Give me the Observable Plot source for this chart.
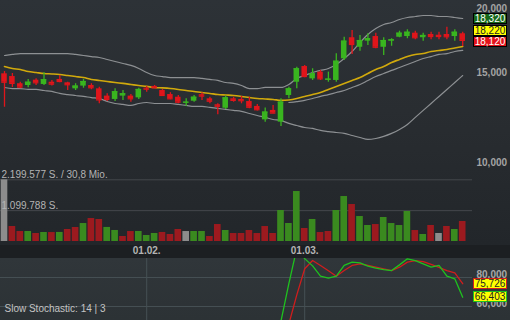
<!DOCTYPE html>
<html><head><meta charset="utf-8">
<script src="https://cdn.jsdelivr.net/npm/d3@7"></script>
<script src="https://cdn.jsdelivr.net/npm/@observablehq/plot@0.6"></script>
<style>
body{margin:0;background:#23272b;}
#chart{position:relative;width:510px;height:320px;overflow:hidden;font-family:"Liberation Sans",Arial,sans-serif;
background:linear-gradient(#2d3237 0px,#292d31 110px,#22262a 245px);}
#chart svg{position:absolute;left:0;}
.strip{position:absolute;left:0;top:245px;width:510px;height:13px;background:#1c1f22}
.stoch{position:absolute;left:0;top:258px;width:510px;height:62px;background:linear-gradient(#30363a,#2c3235)}
.box{position:absolute;left:473px;width:32px;height:9px;font-size:10px;line-height:9px;text-align:center;border:1px solid #000;box-sizing:content-box}
</style></head>
<body>
<div id="chart"><div class="strip"></div><div class="stoch"></div></div>
<script>
// ---- data (prices in EUR, one entry per trading day) ----
const open  = [15.59,15.40,14.91,14.79,15.15,14.86,15.01,15.20,14.97,14.57,14.75,14.79,14.57,14.10,13.89,14.10,14.10,13.99,14.61,14.73,14.46,14.20,14.03,13.66,13.78,14.19,13.93,13.56,13.35,13.93,13.89,13.76,13.46,12.67,13.22,12.54,14.14,15.01,16.11,15.24,15.71,15.15,15.13,16.68,18.34,17.57,18.06,18.44,17.57,18.06,18.38,18.44,18.72,18.34,18.61,18.55,18.61,18.44,18.67];
const high  = [15.75,15.61,15.01,15.20,15.24,15.66,15.13,15.47,15.01,14.91,15.20,14.91,14.68,14.25,14.57,14.46,14.20,14.61,14.73,14.79,14.53,14.32,14.14,13.93,14.14,14.32,14.03,13.62,14.10,14.03,14.08,14.03,13.58,13.37,13.52,13.93,14.68,16.06,16.19,15.95,15.83,15.71,17.06,18.38,18.95,18.53,18.67,18.72,18.34,18.26,18.89,19.01,18.89,18.72,18.80,18.80,19.23,19.01,18.80];
const low   = [13.41,14.66,14.57,14.64,14.79,14.79,14.75,14.97,14.46,14.46,14.61,14.51,13.62,13.76,13.76,13.83,13.72,13.89,14.35,14.57,14.08,13.87,13.62,13.46,13.72,13.83,13.62,12.96,13.28,13.72,13.62,13.32,13.18,12.54,13.02,12.30,13.93,14.57,15.31,15.13,15.13,15.01,15.01,16.55,17.01,17.26,17.71,17.45,16.93,17.65,18.34,18.26,18.17,18.06,18.17,18.17,18.17,18.06,17.63];
const close = [15.01,14.93,14.68,15.01,14.97,15.18,14.88,15.06,14.84,14.75,15.06,14.64,13.86,13.89,14.38,14.25,13.93,14.53,14.55,14.64,14.14,13.93,13.72,13.72,14.03,14.10,13.78,13.47,13.99,13.83,13.81,13.41,13.26,13.12,13.06,13.72,14.57,15.95,15.40,15.59,15.24,15.22,16.50,18.06,17.79,18.11,18.26,17.57,18.11,18.17,18.72,18.80,18.34,18.53,18.44,18.44,18.42,18.80,18.12];
const volume = [2199577,534800,356200,357100,285400,321300,318900,322600,428300,499700,641200,819500,784600,501300,392800,178400,355600,357900,213800,285900,321700,249600,427800,355300,356800,357400,177900,605800,392100,284600,286200,391700,284900,534300,285300,1104600,641800,1781900,463400,785200,319800,356600,1105300,1603800,1318700,890600,570400,605300,856200,640700,569800,1069500,391600,249800,570900,285100,534700,427600,713400];
const upperBand = [16.93,17.01,17.08,17.08,17.08,17.08,17.08,17.08,17.08,17.01,16.93,16.85,16.78,16.63,16.48,16.33,16.19,15.97,15.68,15.47,15.40,15.33,15.33,15.33,15.33,15.27,15.20,15.13,14.99,14.93,14.79,14.59,14.59,14.66,14.66,14.66,14.86,15.27,15.47,15.68,15.83,15.97,16.26,16.70,17.24,17.95,18.61,19.12,19.47,19.64,19.91,20.09,20.18,20.27,20.27,20.18,20.18,20.09,20.00];
const lowerBand = [14.66,14.59,14.59,14.53,14.53,14.46,14.40,14.27,14.20,14.14,14.08,14.01,13.95,13.76,13.64,13.58,13.52,13.64,13.70,13.64,13.64,13.64,13.58,13.52,13.46,13.46,13.40,13.34,13.28,13.22,13.16,13.04,12.92,12.81,12.69,12.63,12.47,12.35,12.24,12.19,12.08,12.02,11.97,11.92,11.81,11.70,11.60,11.65,11.76,11.92,12.13,12.41,12.81,13.22,13.64,14.08,14.53,14.99,15.47];
const avgYellow = [16.11,15.97,15.90,15.75,15.68,15.61,15.58,15.54,15.47,15.40,15.33,15.20,15.13,15.06,14.99,14.93,14.86,14.79,14.73,14.66,14.63,14.59,14.53,14.46,14.40,14.33,14.27,14.20,14.17,14.14,14.08,14.01,13.95,13.92,13.89,13.83,13.86,13.95,14.08,14.20,14.33,14.53,14.73,14.93,15.13,15.33,15.61,15.90,16.11,16.41,16.63,16.85,17.01,17.08,17.24,17.32,17.39,17.51,17.63];
const avgGreyStart = 36;
const avgGrey = [13.70,13.76,13.83,13.95,14.08,14.20,14.33,14.46,14.66,14.86,15.13,15.40,15.61,15.83,16.04,16.26,16.48,16.70,16.85,17.01,17.08,17.24,17.32];
const slowKStart = 35;
const slowK = [50,76,100,93,88,81,79.5,81,88.3,90.6,90.1,87.8,86.4,85.5,84.8,88.7,92.9,91.7,89.4,87.1,88.3,80.9,79.1,66.403];
const slowDStart = 36;
const slowD = [48,68,86,91.7,88.3,84.6,80.9,84.8,88.3,89.4,88.3,87.1,86,84.8,87.1,90.6,91.7,91,89,87,84.8,83.2,75.726];
const dateTickIdx = [18, 38];
const dateTickLabels = ["01.02.", "01.03."];
const priceTicks = [10, 15, 20];
const volTicks = [2199577, 1099788];
const turnoverMio = 30.8;
const stochTicks = [60, 80];
const quoteBoxes = [18.32, 18.22, 18.12];
const stochBoxes = [75.726, 66.403];

// ---- helpers ----
const loc = d3.formatLocale({decimal: ",", thousands: ".", grouping: [3], currency: ["", "€"]});
const f3 = loc.format(",.3f"), fInt = loc.format(",d"), f1 = loc.format(",.1f");
const days = open.map((o, i) => ({i, open: o, high: high[i], low: low[i], close: close[i], vol: volume[i],
  dir: i === 0 ? 0 : Math.sign(Math.round((close[i] - close[i-1]) * 1000))}));
const series = (arr, start = 0) => arr.map((v, j) => ({i: j + start, v}));
const RED = "#e0151b", GREEN = "#39b51f";
const candleColor = d => d.close >= d.open ? GREEN : RED;
const volColor = d => d.dir > 0 ? "#3a8a1f" : d.dir < 0 ? "#9c1a1f" : "#8c8c8c";
const X = {domain: [0, 58], range: [4, 462.2], axis: null};
const baseStyle = {background: "transparent", fontFamily: "'Liberation Sans', Arial, sans-serif", fontSize: "10px", overflow: "visible"};
const chart = document.getElementById("chart");
function place(svg, top) { svg.style.top = top + "px"; chart.appendChild(svg); }

// ---- price panel ----
place(Plot.plot({
  width: 510, height: 176, marginTop: 0, marginBottom: 0, marginLeft: 0, marginRight: 40,
  style: {...baseStyle, color: "#a4a4a4"},
  x: X,
  y: {type: "log", domain: [10, 20], range: [171.9, 18], axis: null, label: null},
  marks: [
    Plot.line(series(upperBand), {x: "i", y: "v", stroke: "#8d9093", strokeWidth: 1.2, curve: "monotone-x"}),
    Plot.line(series(lowerBand), {x: "i", y: "v", stroke: "#8d9093", strokeWidth: 1.2, curve: "monotone-x"}),
    Plot.line(series(avgGrey, avgGreyStart), {x: "i", y: "v", stroke: "#8d9093", strokeWidth: 1.2, curve: "monotone-x"}),
    Plot.line(series(avgYellow), {x: "i", y: "v", stroke: "#d1a90c", strokeWidth: 1.6, curve: "monotone-x"}),
    Plot.ruleX(days, {x: "i", y1: "low", y2: "high", stroke: candleColor, strokeWidth: 1.3}),
    Plot.rect(days, {x1: d => d.i - 0.35, x2: d => d.i + 0.35, y1: "open", y2: "close", fill: candleColor}),
    Plot.ruleY(days, {y: "close", x1: d => d.i - 0.35, x2: d => d.i + 0.35, stroke: candleColor, strokeWidth: 1.2}),
    Plot.axisY({ticks: priceTicks, anchor: "right", label: null, tickSize: 0, tickPadding: 6, dy: -10, tickFormat: f3, fontWeight: "bold"})
  ]
}), 0);

// ---- volume panel ----
place(Plot.plot({
  width: 510, height: 93, marginTop: 0, marginBottom: 13, marginLeft: 0, marginRight: 38,
  style: {...baseStyle, color: "#b4b4b4"},
  x: X,
  y: {domain: [0, volTicks[0]], range: [76, 14.3], axis: null, label: null},
  marks: [
    Plot.gridY(volTicks, {stroke: "#44484c", strokeOpacity: 1}),
    Plot.rect(days, {x1: d => d.i - 0.42, x2: d => d.i + 0.42, y1: 0, y2: "vol", fill: volColor}),
    Plot.text(volTicks, {y: d => d, text: (d, k) => fInt(d) + " S." + (k === 0 ? " / " + f1(turnoverMio) + " Mio." : ""),
      frameAnchor: "left", textAnchor: "start", dx: 1, dy: -5, fill: "#b4b4b4"}),
    Plot.axisX({ticks: dateTickIdx, anchor: "bottom", label: null, tickSize: 0, tickPadding: 1, fontWeight: "bold",
      tickFormat: d => dateTickLabels[dateTickIdx.indexOf(d)]})
  ]
}), 165);

// ---- slow stochastic panel ----
place(Plot.plot({
  width: 510, height: 62, marginTop: 0, marginBottom: 0, marginLeft: 0, marginRight: 38,
  style: {...baseStyle, color: "#a8a8a8"},
  x: X,
  y: {domain: [50.34, 93.1], axis: null, label: null},
  marks: [
    Plot.gridY(stochTicks, {stroke: "#465054", strokeOpacity: 1}),
    Plot.gridX(dateTickIdx, {stroke: "#465054", strokeOpacity: 1}),
    Plot.line(series(slowD, slowDStart), {x: "i", y: "v", stroke: "#d01d1d", strokeWidth: 1.3, clip: true}),
    Plot.line(series(slowK, slowKStart), {x: "i", y: "v", stroke: "#1ec21e", strokeWidth: 1.3, clip: true}),
    Plot.axisY({ticks: stochTicks, anchor: "right", label: null, tickSize: 0, tickPadding: 4, dy: -3, tickFormat: f3, fontWeight: "bold"}),
    Plot.text(["Slow Stochastic: 14 | 3"], {frameAnchor: "bottom-left", textAnchor: "start", dx: 4, dy: -9, fill: "#c4c4c4"})
  ]
}), 258);

// ---- value boxes ----
const boxStyles = [
  {top: 13, bg: "#17691a", fg: "#fff", bd: "#000"},
  {top: 25, bg: "#ffff00", fg: "#222", bd: "#000"},
  {top: 36, bg: "#e3131b", fg: "#fff", bd: "#000"}
];
quoteBoxes.forEach((v, k) => {
  const s = boxStyles[k], el = document.createElement("div");
  el.className = "box"; el.textContent = f3(v);
  Object.assign(el.style, {top: s.top + "px", background: s.bg, color: s.fg, borderColor: s.bd});
  chart.appendChild(el);
});
const stochBoxStyles = [{top: 278, bd: "#d01d1d"}, {top: 290.5, bd: "#1ec21e"}];
stochBoxes.forEach((v, k) => {
  const s = stochBoxStyles[k], el = document.createElement("div");
  el.className = "box"; el.textContent = f3(v);
  Object.assign(el.style, {top: s.top + "px", background: "#ffff00", color: "#222", border: "1.5px solid " + s.bd});
  chart.appendChild(el);
});
</script>
</body></html>
